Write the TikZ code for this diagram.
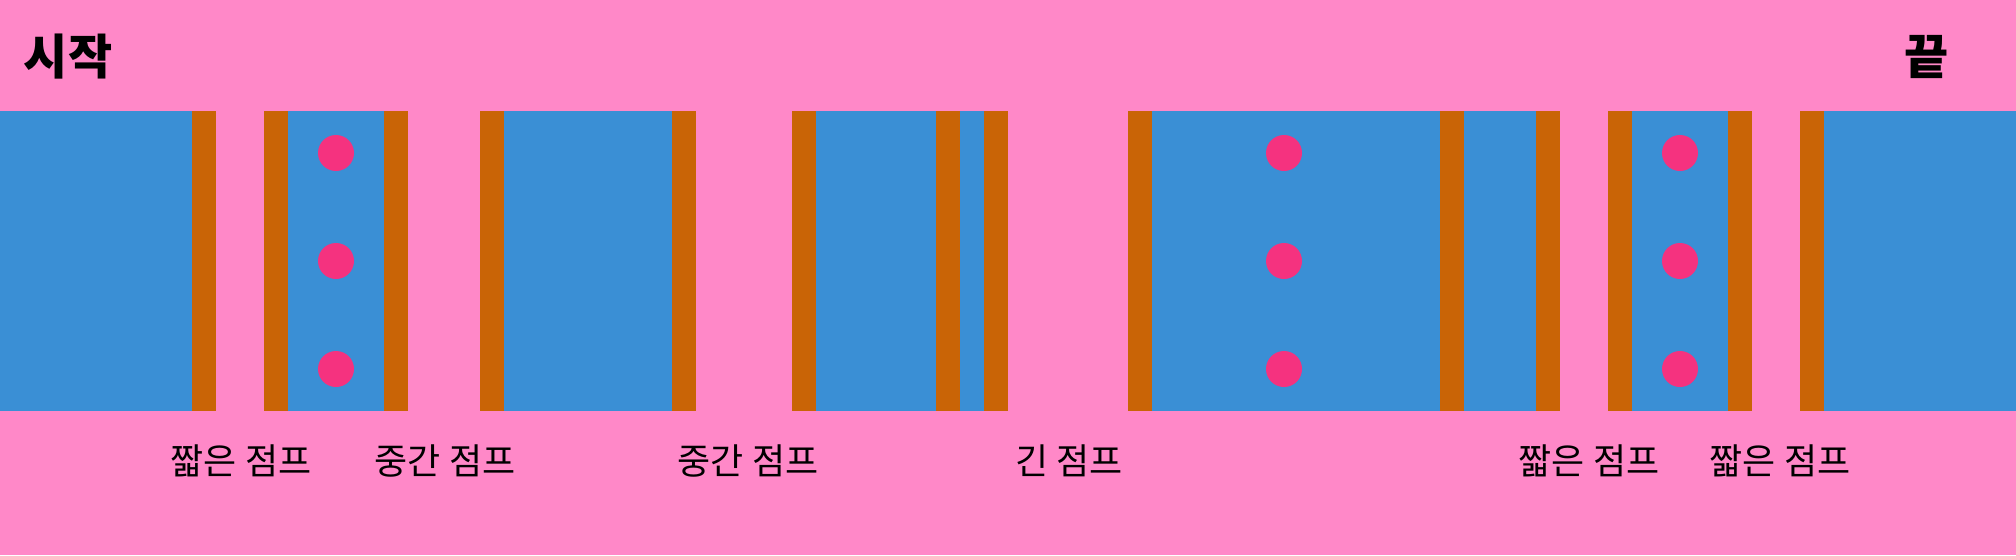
\documentclass[tikz,border=0pt]{standalone}
\usepackage{fontspec}
\newfontfamily\kr{Noto Sans CJK KR}
\definecolor{bgpink}{HTML}{FF88C8}
\definecolor{seablue}{HTML}{3A8FD5}
\definecolor{rust}{HTML}{C96406}
\definecolor{dotpink}{HTML}{F5327F}
\tikzset{
  bluepart/.style={fill=seablue},
  orangepart/.style={fill=rust},
  dotmark/.style={fill=dotpink},
  jumplabel/.style={font=\kr\fontsize{36}{42}\selectfont, inner sep=0pt, text=black},
  titlelabel/.style={font=\kr\bfseries\fontsize{48}{56}\selectfont, inner sep=0pt, text=black}
}
\begin{document}
\begin{tikzpicture}[x=1pt,y=-1pt]
\fill[bgpink] (0,0) rectangle (2016,555);
\useasboundingbox (0,0) rectangle (2016,555);
% blue segments
\foreach \a/\b in {0/192,288/384,504/672,816/936,960/984,1152/1440,1464/1536,1632/1728,1824/2016}
  \fill[bluepart] (\a,111) rectangle (\b,411);
% orange bars
\foreach \a in {192,264,384,480,672,792,936,984,1128,1440,1536,1608,1728,1800}
  \fill[orangepart] (\a,111) rectangle (\a+24,411);
% dots
\foreach \x in {336,1284,1680}
  \foreach \y in {153,261,369}
    \fill[dotmark] (\x,\y) circle (18);
% titles
\node[titlelabel] (start) at (68,57) {시작};
\node[titlelabel] (end) at (1927,57) {끝};
% labels
\node[jumplabel] (l1) at (241,461) {짧은 점프};
\node[jumplabel] (l2) at (445,461) {중간 점프};
\node[jumplabel] (l3) at (748,461) {중간 점프};
\node[jumplabel] (l4) at (1069,461) {긴 점프};
\node[jumplabel] (l5) at (1589,461) {짧은 점프};
\node[jumplabel] (l6) at (1780,461) {짧은 점프};
\end{tikzpicture}
\end{document}
